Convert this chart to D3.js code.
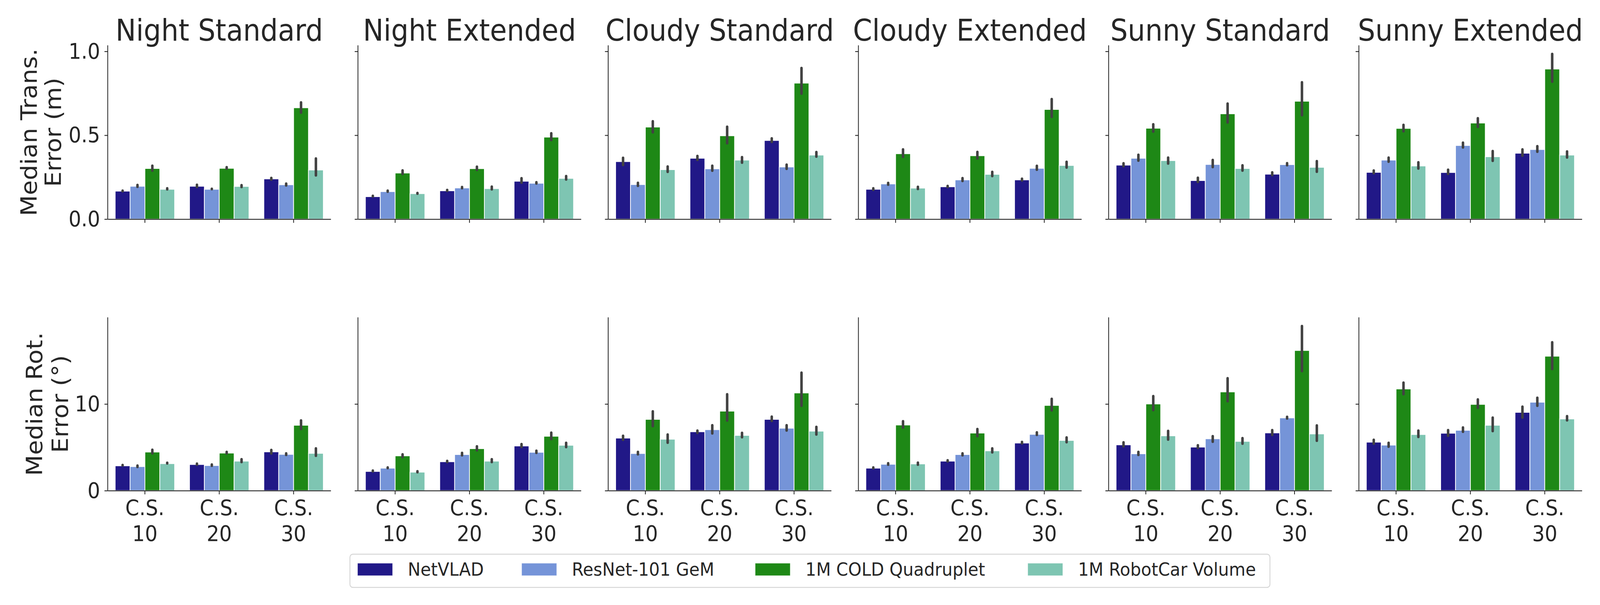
<!DOCTYPE html>
<html>
<head>
<meta charset="utf-8">
<script src="https://cdn.jsdelivr.net/npm/d3@7"></script>
<style>
  html, body { margin: 0; padding: 0; width: 100%; height: 100%; overflow: hidden; background: #ffffff; }
  svg { display: block; }
  text { font-family: "DejaVu Sans", sans-serif; fill: #262626; }
</style>
</head>
<body>
<script>
// conditions (columns), cluster sizes (x categories), methods (hue)
var conditions = ["Night Standard", "Night Extended", "Cloudy Standard", "Cloudy Extended", "Sunny Standard", "Sunny Extended"];
var clusterSizes = ["10", "20", "30"];
var methods = ["NetVLAD", "ResNet-101 GeM", "1M COLD Quadruplet", "1M RobotCar Volume"];
var methodColors = ["#211887", "#7594d8", "#1e8816", "#7ec5b2"];

// median translation error (m)  [condition][cluster size][method]
var transMedian = [
  [[0.167, 0.196, 0.302, 0.178], [0.196, 0.178, 0.303, 0.195], [0.240, 0.205, 0.664, 0.293]],
  [[0.134, 0.164, 0.275, 0.152], [0.169, 0.186, 0.301, 0.182], [0.226, 0.214, 0.489, 0.243]],
  [[0.343, 0.206, 0.549, 0.295], [0.363, 0.300, 0.497, 0.352], [0.469, 0.311, 0.811, 0.382]],
  [[0.178, 0.210, 0.390, 0.185], [0.193, 0.234, 0.378, 0.267], [0.234, 0.303, 0.654, 0.320]],
  [[0.322, 0.363, 0.542, 0.349], [0.230, 0.326, 0.628, 0.302], [0.268, 0.325, 0.703, 0.309]],
  [[0.279, 0.352, 0.541, 0.317], [0.278, 0.439, 0.573, 0.372], [0.393, 0.415, 0.895, 0.382]]
];
var transLow = [
  [[0.160, 0.186, 0.283, 0.171], [0.185, 0.172, 0.294, 0.185], [0.229, 0.194, 0.628, 0.254]],
  [[0.129, 0.157, 0.263, 0.145], [0.162, 0.178, 0.287, 0.171], [0.211, 0.206, 0.465, 0.230]],
  [[0.316, 0.192, 0.511, 0.275], [0.347, 0.282, 0.446, 0.330], [0.454, 0.293, 0.742, 0.366]],
  [[0.168, 0.199, 0.365, 0.173], [0.185, 0.221, 0.355, 0.250], [0.224, 0.288, 0.603, 0.301]],
  [[0.309, 0.342, 0.515, 0.325], [0.215, 0.304, 0.570, 0.283], [0.256, 0.315, 0.613, 0.276]],
  [[0.267, 0.336, 0.517, 0.295], [0.263, 0.421, 0.543, 0.341], [0.372, 0.395, 0.813, 0.361]]
];
var transHigh = [
  [[0.176, 0.210, 0.325, 0.190], [0.211, 0.187, 0.316, 0.209], [0.252, 0.218, 0.702, 0.368]],
  [[0.145, 0.176, 0.297, 0.162], [0.180, 0.198, 0.319, 0.200], [0.250, 0.226, 0.518, 0.263]],
  [[0.372, 0.223, 0.590, 0.320], [0.383, 0.325, 0.557, 0.376], [0.488, 0.331, 0.907, 0.406]],
  [[0.190, 0.222, 0.422, 0.199], [0.204, 0.251, 0.407, 0.288], [0.247, 0.324, 0.722, 0.348]],
  [[0.339, 0.390, 0.572, 0.373], [0.253, 0.359, 0.695, 0.327], [0.285, 0.340, 0.822, 0.352]],
  [[0.296, 0.373, 0.568, 0.345], [0.301, 0.462, 0.608, 0.412], [0.422, 0.441, 0.991, 0.410]]
];

// median rotation error (deg)  [condition][cluster size][method]
var rotMedian = [
  [[2.87, 2.78, 4.46, 3.12], [3.02, 2.90, 4.34, 3.41], [4.48, 4.19, 7.55, 4.31]],
  [[2.22, 2.60, 4.02, 2.14], [3.34, 4.17, 4.85, 3.41], [5.16, 4.43, 6.28, 5.24]],
  [[6.07, 4.29, 8.23, 5.94], [6.80, 7.04, 9.18, 6.38], [8.23, 7.21, 11.28, 6.87]],
  [[2.60, 3.05, 7.58, 3.09], [3.41, 4.17, 6.65, 4.60], [5.50, 6.50, 9.84, 5.80]],
  [[5.29, 4.26, 10.01, 6.33], [5.03, 5.99, 11.40, 5.69], [6.67, 8.40, 16.18, 6.55]],
  [[5.60, 5.26, 11.74, 6.48], [6.63, 6.97, 9.96, 7.55], [9.04, 10.21, 15.52, 8.28]]
];
var rotLow = [
  [[2.78, 2.61, 4.19, 3.02], [2.87, 2.75, 4.17, 3.17], [4.17, 4.00, 6.99, 3.90]],
  [[2.10, 2.48, 3.75, 2.00], [3.17, 3.95, 4.53, 3.17], [4.92, 4.24, 5.82, 4.90]],
  [[5.75, 4.07, 7.33, 5.41], [6.55, 6.48, 7.97, 6.04], [7.92, 6.82, 9.67, 6.36]],
  [[2.46, 2.87, 7.16, 2.87], [3.26, 3.95, 6.16, 4.29], [5.33, 6.31, 9.14, 5.46]],
  [[4.99, 4.00, 9.18, 5.77], [4.80, 5.52, 10.20, 5.29], [6.31, 8.21, 13.67, 5.63]],
  [[5.29, 4.95, 11.01, 6.07], [6.21, 6.67, 9.43, 6.75], [8.31, 9.67, 13.91, 7.99]]
];
var rotHigh = [
  [[3.09, 3.02, 4.85, 3.34], [3.24, 3.14, 4.60, 3.75], [4.82, 4.43, 8.23, 5.00]],
  [[2.44, 2.80, 4.31, 2.36], [3.56, 4.48, 5.24, 3.75], [5.50, 4.73, 6.82, 5.65]],
  [[6.46, 4.60, 9.28, 6.60], [7.06, 7.67, 11.25, 6.80], [8.67, 7.67, 13.74, 7.48]],
  [[2.80, 3.29, 8.14, 3.36], [3.63, 4.43, 7.23, 5.00], [5.75, 6.85, 10.72, 6.26]],
  [[5.70, 4.60, 11.04, 7.02], [5.36, 6.41, 13.10, 6.19], [7.11, 8.65, 19.12, 7.65]],
  [[5.99, 5.65, 12.59, 7.06], [7.11, 7.41, 10.65, 8.55], [9.82, 10.84, 17.25, 8.72]]
];

var transTicks = [0, 0.5, 1.0];
var rotTicks = [0, 10];
var transMax = 1.036;
var rotMax = 20;

// layout (drawn in the reference's 4426x1548 frame, stretched to the window)
var width = 4426, height = 1548;
var panelLeft = 298, panelStep = 692.2, panelWidth = 617;
var rows = [
  { top: 116, bottom: 560.6, median: transMedian, low: transLow, high: transHigh,
    max: transMax, ticks: transTicks, fmt: d3.format(".1f"),
    label: ["Median Trans.", "Error (m)"], labelX: 102, labelGap: 67 },
  { top: 812, bottom: 1255.4, median: rotMedian, low: rotLow, high: rotHigh,
    max: rotMax, ticks: rotTicks, fmt: d3.format("d"),
    label: ["Median Rot.", "Error (\u00b0)"], labelX: 117, labelGap: 71 }
];
var inkColor = "#262626";

var svg = d3.select("body").append("svg")
  .attr("viewBox", "0 0 " + width + " " + height)
  .attr("preserveAspectRatio", "none")
  .style("width", "100vw")
  .style("height", "100vh");

var x = d3.scaleBand().domain(clusterSizes).range([0, panelWidth]).padding(0);
var xm = d3.scaleBand().domain(methods)
  .range([x.bandwidth() * 0.1, x.bandwidth() * 0.9]).padding(0);

rows.forEach(function(row, ri)
{
  var y = d3.scaleLinear().domain([0, row.max]).range([row.bottom, row.top]);

  conditions.forEach(function(cond, ci)
  {
    var g = svg.append("g")
      .attr("transform", "translate(" + (panelLeft + ci * panelStep) + ",0)");

    // bars
    clusterSizes.forEach(function(cs, si)
    {
      var grp = g.append("g").attr("transform", "translate(" + x(cs) + ",0)");
      grp.selectAll("rect").data(methods).enter().append("rect")
        .attr("x", function(m) { return xm(m); })
        .attr("width", xm.bandwidth())
        .attr("y", function(m, mi) { return y(row.median[ci][si][mi]); })
        .attr("height", function(m, mi) { return y(0) - y(row.median[ci][si][mi]); })
        .attr("fill", function(m, mi) { return methodColors[mi]; })
        .attr("stroke", "#ffffff")
        .attr("stroke-width", 2);

      grp.selectAll("line.err").data(methods).enter().append("line")
        .attr("class", "err")
        .attr("x1", function(m) { return xm(m) + xm.bandwidth() / 2; })
        .attr("x2", function(m) { return xm(m) + xm.bandwidth() / 2; })
        .attr("y1", function(m, mi) { return y(row.low[ci][si][mi]) - 3; })
        .attr("y2", function(m, mi) { return y(row.high[ci][si][mi]) + 3; })
        .attr("stroke", "#424242")
        .attr("stroke-width", 7)
        .attr("stroke-linecap", "round");
    });

    // y axis
    var yAxis = d3.axisLeft(y).tickValues(row.ticks).tickSize(9).tickSizeOuter(0)
      .tickPadding(12).tickFormat(ci === 0 ? row.fmt : "");
    var ya = g.append("g").call(yAxis);
    ya.select(".domain").attr("stroke", inkColor).attr("stroke-width", 2.2)
      .attr("d", "M0," + row.top + "V" + row.bottom);
    ya.selectAll(".tick line").attr("stroke", inkColor).attr("stroke-width", 2.2);
    ya.selectAll(".tick text").attr("font-size", 55).attr("fill", inkColor)
      .attr("font-family", "DejaVu Sans");

    // x axis
    var xAxis = d3.axisBottom(x).tickSize(9.5).tickSizeOuter(0).tickFormat("");
    var xa = g.append("g").attr("transform", "translate(0," + row.bottom + ")").call(xAxis);
    xa.select(".domain").attr("stroke", inkColor).attr("stroke-width", 2.2);
    xa.selectAll(".tick line").attr("stroke", inkColor).attr("stroke-width", 2.2);

    if (ri === rows.length - 1)
    {
      var labels = g.append("g").selectAll("text").data(clusterSizes).enter().append("text")
        .attr("x", function(d) { return x(d) + x.bandwidth() / 2; })
        .attr("y", row.bottom + 62.6)
        .attr("text-anchor", "middle")
        .attr("font-size", 55);
      labels.append("tspan").attr("x", function(d) { return x(d) + x.bandwidth() / 2; })
        .text("C.S.");
      labels.append("tspan").attr("x", function(d) { return x(d) + x.bandwidth() / 2; })
        .attr("dy", 66).text(function(d) { return d; });
    }

    // titles on top row
    if (ri === 0)
    {
      g.append("text")
        .attr("x", panelWidth / 2)
        .attr("y", 104)
        .attr("text-anchor", "middle")
        .attr("font-size", 76)
        .text(cond);
    }
  });

  // row y label
  var cy = (row.top + row.bottom) / 2;
  var lab = svg.append("text")
    .attr("transform", "translate(" + row.labelX + "," + cy + ") rotate(-90)")
    .attr("text-anchor", "middle")
    .attr("font-size", 62);
  lab.append("tspan").attr("x", 0).attr("y", 0).text(row.label[0]);
  lab.append("tspan").attr("x", 0).attr("y", row.labelGap).text(row.label[1]);
});

// legend
var legendBox = { x: 968, y: 1418, w: 2545, h: 85 };
var legendPatchX = [989, 1443, 2089, 2843];
var legend = svg.append("g");
legend.append("rect")
  .attr("x", legendBox.x).attr("y", legendBox.y)
  .attr("width", legendBox.w).attr("height", legendBox.h)
  .attr("rx", 8).attr("ry", 8)
  .attr("fill", "#ffffff")
  .attr("stroke", "#d6d6d6").attr("stroke-width", 2.5);

var items = legend.selectAll("g.item").data(methods).enter().append("g")
  .attr("class", "item")
  .attr("transform", function(d, i) { return "translate(" + legendPatchX[i] + ",0)"; });
items.append("rect")
  .attr("x", 0).attr("y", 1441)
  .attr("width", 97).attr("height", 32)
  .attr("fill", function(d, i) { return methodColors[i]; })
  .attr("stroke", "#ffffff").attr("stroke-opacity", 0.6).attr("stroke-width", 1.5);
items.append("text")
  .attr("x", 139).attr("y", 1473)
  .attr("font-size", 47)
  .text(function(d) { return d; });
</script>
</body>
</html>
